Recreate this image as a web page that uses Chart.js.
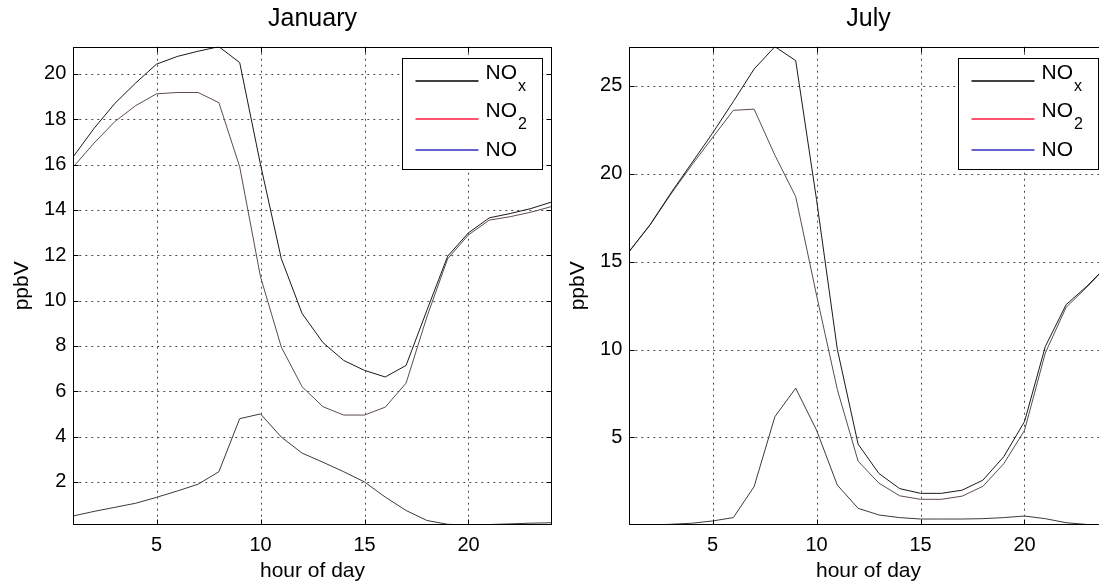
<!DOCTYPE html>
<html lang="en">
<head>
<meta charset="UTF-8">
<title>NOx diurnal cycle - January / July</title>
<script src="https://cdn.jsdelivr.net/npm/chart.js@4.4.1/dist/chart.umd.min.js"></script>
<style>
    html, body { margin: 0; padding: 0; background: #fff; overflow: hidden; }
    body { width: 1099px; height: 584px; position: relative; }
    .panel { position: absolute; top: 0; width: 560px; height: 584px; }
</style>
</head>
<body>
<div class="panel" style="left:0"><canvas id="janChart" width="560" height="584"></canvas></div>
<div class="panel" style="left:556px"><canvas id="julChart" width="560" height="584"></canvas></div>

<script>
// hour of day
const hours = [1, 2, 3, 4, 5, 6, 7, 8, 9, 10, 11, 12, 13, 14, 15, 16, 17, 18, 19, 20, 21, 22, 23, 24];

// January (ppbV)
const janNOx = [16.35, 17.6, 18.7, 19.6, 20.43, 20.77, 21.0, 21.2, 20.5, 16.0, 11.85, 9.43, 8.15, 7.36, 6.92, 6.63, 7.14, 9.57, 11.96, 12.99, 13.65, 13.84, 14.06, 14.35];
const janNO2 = [15.9, 16.95, 17.9, 18.6, 19.12, 19.18, 19.18, 18.73, 15.9, 11.05, 7.95, 6.2, 5.32, 4.95, 4.95, 5.3, 6.36, 9.28, 11.85, 12.9, 13.55, 13.7, 13.9, 14.15];
const janNO  = [0.5, 0.7, 0.88, 1.06, 1.32, 1.6, 1.9, 2.45, 4.79, 5.0, 3.98, 3.27, 2.87, 2.45, 2.0, 1.33, 0.74, 0.3, 0.13, 0.1, 0.12, 0.15, 0.18, 0.2];

// July (ppbV)
const julNOx = [15.59, 17.1, 18.9, 20.6, 22.3, 24.1, 25.95, 27.22, 26.43, 18.54, 10.02, 4.62, 2.95, 2.09, 1.82, 1.82, 2.0, 2.57, 3.9, 5.9, 10.17, 12.55, 13.6, 14.8];
const julNO2 = [15.57, 17.08, 18.84, 20.48, 22.05, 23.6, 23.67, 21.05, 18.7, 13.1, 7.73, 3.65, 2.4, 1.68, 1.48, 1.48, 1.66, 2.22, 3.5, 5.4, 9.8, 12.4, 13.55, 14.78];
const julNO  = [0.02, 0.02, 0.06, 0.12, 0.25, 0.44, 2.2, 6.18, 7.8, 5.42, 2.29, 0.97, 0.59, 0.44, 0.36, 0.36, 0.36, 0.38, 0.44, 0.53, 0.38, 0.15, 0.05, 0.02];

// tick labels
const xTicks = [5, 10, 15, 20];
const janYTicks = [2, 4, 6, 8, 10, 12, 14, 16, 18, 20];
const julYTicks = [5, 10, 15, 20, 25];

const FONT = '"Liberation Sans", Arial, Helvetica, sans-serif';
const legendItems = [
    { main: 'NO', sub: 'x', color: '#000000', dy: 22.7 },
    { main: 'NO', sub: '2', color: '#ff1a40', dy: 60 },
    { main: 'NO', sub: '',  color: '#2f2fc0', dy: 91.7 }
];

// grid, frame with inward ticks, title and boxed legend, drawn the way the matlab figure looks
function panelPlugin(title) {
    return {
        id: 'panel',
        beforeDatasetsDraw(chart) {
            const { ctx, chartArea: a, scales: { x, y } } = chart;
            ctx.save();
            ctx.strokeStyle = '#4a4a4a';
            ctx.lineWidth = 1;
            ctx.setLineDash([2, 4]);
            ctx.beginPath();
            x.ticks.forEach(t => {
                const px = Math.round(x.getPixelForValue(t.value)) + 0.5;
                ctx.moveTo(px, a.top); ctx.lineTo(px, a.bottom);
            });
            y.ticks.forEach(t => {
                const py = Math.round(y.getPixelForValue(t.value)) + 0.5;
                ctx.moveTo(a.left, py); ctx.lineTo(a.right, py);
            });
            ctx.stroke();
            ctx.restore();
        },
        afterDraw(chart) {
            const { ctx, chartArea: a, scales: { x, y } } = chart;
            ctx.save();

            // title
            ctx.fillStyle = '#000';
            ctx.font = '25px ' + FONT;
            ctx.textAlign = 'center';
            ctx.textBaseline = 'middle';
            ctx.fillText(title, (a.left + a.right) / 2, 19);

            // frame
            ctx.strokeStyle = '#000';
            ctx.lineWidth = 1;
            const L = Math.round(a.left) + 0.5, R = Math.round(a.right) - 0.5;
            const T = Math.round(a.top) + 0.5, B = Math.round(a.bottom) - 0.5;
            ctx.strokeRect(L, T, R - L, B - T);

            // inward tick marks on all four sides
            ctx.beginPath();
            x.ticks.forEach(t => {
                const px = Math.round(x.getPixelForValue(t.value)) + 0.5;
                ctx.moveTo(px, B); ctx.lineTo(px, B - 5);
                ctx.moveTo(px, T); ctx.lineTo(px, T + 5);
            });
            y.ticks.forEach(t => {
                const py = Math.round(y.getPixelForValue(t.value)) + 0.5;
                ctx.moveTo(L, py); ctx.lineTo(L + 5, py);
                ctx.moveTo(R, py); ctx.lineTo(R - 5, py);
            });
            ctx.stroke();

            // legend box
            const bw = 140, bh = 111;
            const bx = Math.round(a.right - 9.5 - bw) + 0.5, by = Math.round(a.top + 11.6) + 0.5;
            ctx.fillStyle = '#fff';
            ctx.fillRect(bx, by, bw, bh);
            ctx.strokeStyle = '#000';
            ctx.strokeRect(bx, by, bw, bh);

            legendItems.forEach(item => {
                const ly = Math.round(by + item.dy);
                ctx.strokeStyle = item.color;
                ctx.lineWidth = 1.6;
                ctx.beginPath();
                ctx.moveTo(bx + 13, ly); ctx.lineTo(bx + 76, ly);
                ctx.stroke();

                ctx.fillStyle = '#000';
                ctx.textAlign = 'left';
                ctx.textBaseline = 'middle';
                ctx.font = '21px ' + FONT;
                const tx = bx + 83;
                if (item.sub) {
                    ctx.fillText(item.main, tx, ly - 7.5);
                    const w = ctx.measureText(item.main).width;
                    ctx.font = '16px ' + FONT;
                    ctx.fillText(item.sub, tx + w + 1, ly + 6);
                } else {
                    ctx.fillText(item.main, tx, ly);
                }
            });
            ctx.restore();
        }
    };
}

function makePanel(id, title, nox, no2, no, yMin, yMax, yTicks) {
    const ctx = document.getElementById(id).getContext('2d');
    return new Chart(ctx, {
        type: 'line',
        data: {
            datasets: [
                { label: 'NOx', data: hours.map((h, i) => ({ x: h, y: nox[i] })), borderColor: '#1a1a1a' },
                { label: 'NO2', data: hours.map((h, i) => ({ x: h, y: no2[i] })), borderColor: '#5e4a4e' },
                { label: 'NO',  data: hours.map((h, i) => ({ x: h, y: no[i] })),  borderColor: '#3a3a42' }
            ]
        },
        options: {
            responsive: false,
            animation: false,
            devicePixelRatio: 1,
            layout: { padding: { top: 46.7, left: 0, right: 8.3, bottom: 0 } },
            elements: {
                line: { borderWidth: 1, tension: 0 },
                point: { radius: 0 }
            },
            plugins: {
                legend: { display: false },
                tooltip: { enabled: false },
                title: { display: false }
            },
            scales: {
                x: {
                    type: 'linear',
                    min: 1,
                    max: 24,
                    afterBuildTicks: s => { s.ticks = xTicks.map(v => ({ value: v })); },
                    afterFit: s => { s.height = 59; },
                    grid: { display: false, drawTicks: false },
                    border: { display: false },
                    ticks: { color: '#000', padding: 8, font: { size: 20, family: FONT } },
                    title: {
                        display: true,
                        text: 'hour of day',
                        color: '#000',
                        padding: { top: 0, bottom: 0 },
                        font: { size: 21, family: FONT }
                    }
                },
                y: {
                    type: 'linear',
                    min: yMin,
                    max: yMax,
                    afterBuildTicks: s => { s.ticks = yTicks.map(v => ({ value: v })); },
                    afterFit: s => { s.width = 73.3; },
                    grid: { display: false, drawTicks: false },
                    border: { display: false },
                    ticks: { color: '#000', padding: 7, font: { size: 20, family: FONT } },
                    title: {
                        display: true,
                        text: 'ppbV',
                        color: '#000',
                        padding: { top: 9.4, bottom: 0 },
                        font: { size: 21, family: FONT }
                    }
                }
            }
        },
        plugins: [panelPlugin(title)]
    });
}

makePanel('janChart', 'January', janNOx, janNO2, janNO, 0.1, 21.2, janYTicks);
makePanel('julChart', 'July', julNOx, julNO2, julNO, 0.02, 27.22, julYTicks);
</script>
</body>
</html>
